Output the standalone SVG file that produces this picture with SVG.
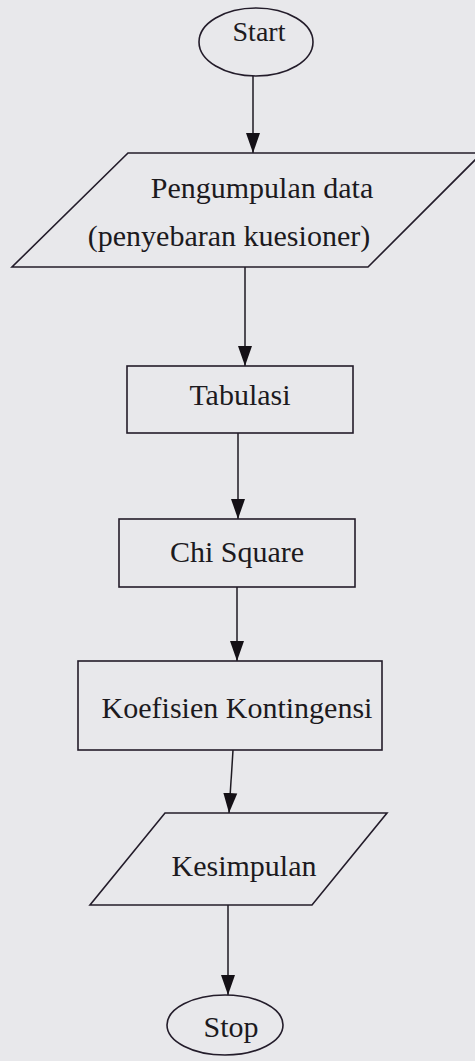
<svg xmlns="http://www.w3.org/2000/svg" width="475" height="1061" viewBox="0 0 475 1061">
<defs>
<style>
.shape{fill:none;stroke:#231c2a;stroke-width:1.6}
.conn{fill:none;stroke:#1e1a22;stroke-width:1.5}
.lbl{font-family:"Liberation Serif","Times New Roman",serif;font-size:30px;fill:#1c1a1e;text-anchor:middle}
</style>
<marker id="arr" viewBox="0 -8 22 16" refX="20" refY="0" markerWidth="22" markerHeight="16" markerUnits="userSpaceOnUse" orient="auto">
<path d="M0,-7 L20,0 L0,7 z" fill="#141016"/>
</marker>
</defs>
<rect x="0" y="0" width="475" height="1061" fill="#e8e8eb"/>
<g id="connectors">
<line class="conn" x1="253" y1="76" x2="253" y2="153" marker-end="url(#arr)"/>
<line class="conn" x1="245" y1="267" x2="245" y2="366" marker-end="url(#arr)"/>
<line class="conn" x1="238" y1="433" x2="238" y2="519" marker-end="url(#arr)"/>
<line class="conn" x1="237" y1="587" x2="237" y2="661" marker-end="url(#arr)"/>
<line class="conn" x1="233" y1="750" x2="229" y2="813" marker-end="url(#arr)"/>
<line class="conn" x1="228" y1="905" x2="228" y2="995" marker-end="url(#arr)"/>
</g>
<g id="start">
<ellipse class="shape" cx="256" cy="42" rx="57" ry="34"/>
<text class="lbl" x="259" y="41" style="font-size:28px">Start</text>
</g>
<g id="pengumpulan">
<polygon class="shape" points="128,153 482,153 368,267 12,267"/>
<text class="lbl" x="262" y="198">Pengumpulan data</text>
<text class="lbl" x="229" y="246">(penyebaran kuesioner)</text>
</g>
<g id="tabulasi">
<rect class="shape" x="127" y="366" width="226" height="67"/>
<text class="lbl" x="240" y="405">Tabulasi</text>
</g>
<g id="chisquare">
<rect class="shape" x="119" y="519" width="236" height="68"/>
<text class="lbl" x="237" y="562">Chi Square</text>
</g>
<g id="koefisien">
<rect class="shape" x="78" y="661" width="304" height="89"/>
<text class="lbl" x="237" y="718">Koefisien Kontingensi</text>
</g>
<g id="kesimpulan">
<polygon class="shape" points="165,813 387,813 312,905 90,905"/>
<text class="lbl" x="244" y="876">Kesimpulan</text>
</g>
<g id="stop">
<ellipse class="shape" cx="225" cy="1025" rx="58" ry="30"/>
<text class="lbl" x="231" y="1037">Stop</text>
</g>
</svg>
